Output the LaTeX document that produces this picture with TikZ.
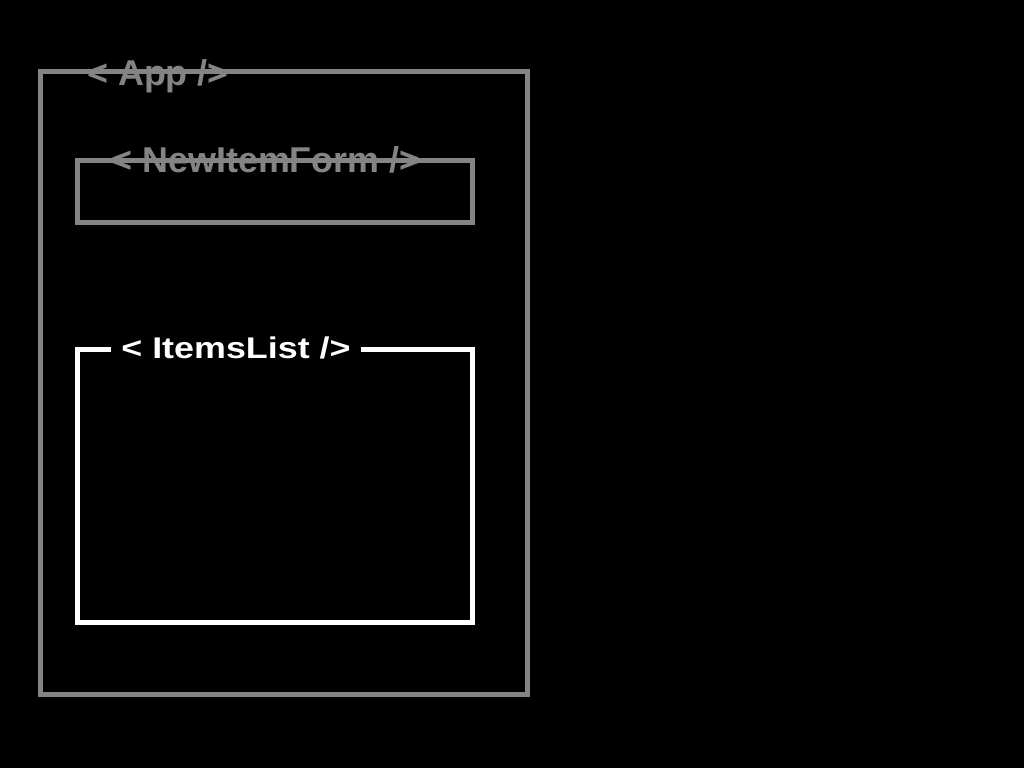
\documentclass[tikz,border=0pt]{standalone}
\usepackage{fontspec}
\setmainfont{Liberation Sans}
\usetikzlibrary{positioning}

\definecolor{chalkgray}{RGB}{132,132,132}
\tikzset{
  outerbox/.style={draw=chalkgray, line width=5bp},
  innerbox/.style={draw=white, line width=5bp},
  graytag/.style={text=chalkgray, font=\bfseries\fontsize{36}{38}\selectfont, inner sep=0pt, anchor=base},
  whitetag/.style={text=white, fill=black, font=\bfseries\fontsize{30}{32}\selectfont, inner xsep=10bp, inner ysep=4bp, anchor=base}
}

\begin{document}
\begin{tikzpicture}[x=1bp,y=-1bp]
  \fill[black] (0,0) rectangle (1024,768);
  \useasboundingbox (0,0) rectangle (1024,768);

  \draw[outerbox] (40,72) rectangle (527,694);
  \draw[outerbox] (77,160) rectangle (472,222);
  \draw[innerbox] (77,349) rectangle (472,622);

  \node[graytag] (app) at (158,86) {< App />};
  \node[graytag] (form) at (266,172) {< NewItemForm />};
  \node[whitetag] (list) at (236,358) {\scalebox{1.2}[1]{< ItemsList />}};

\end{tikzpicture}
\end{document}
